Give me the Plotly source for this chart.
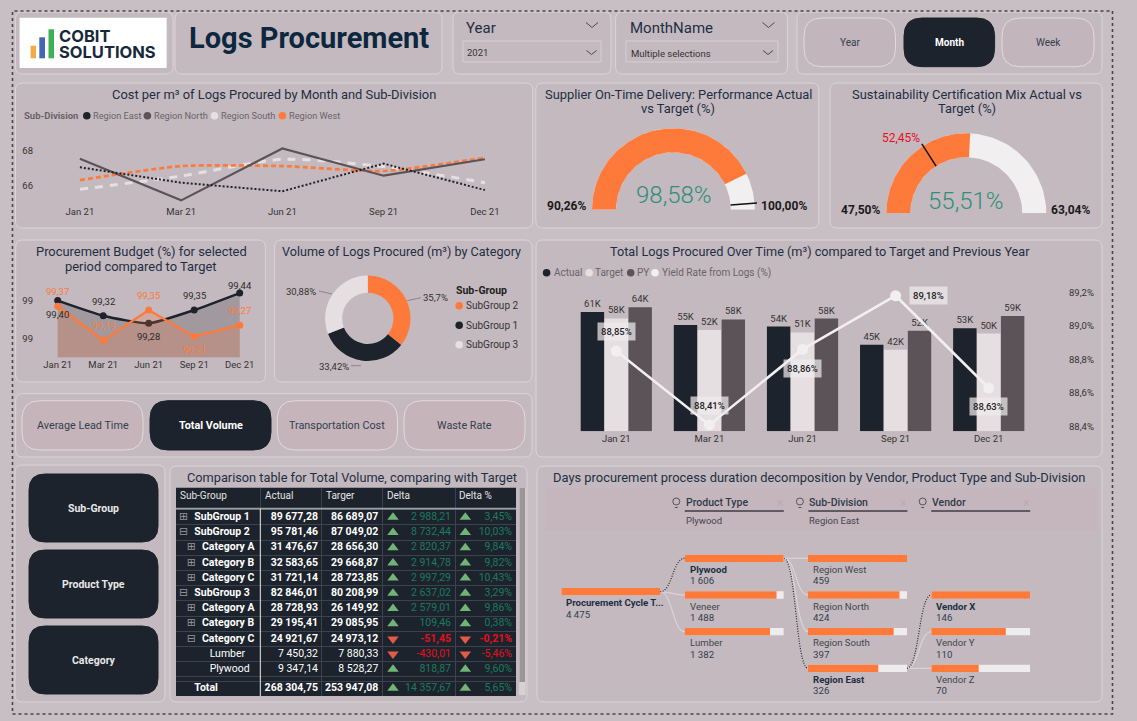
import math
import plotly.graph_objects as go

# ---------- data ----------
months = ["Jan 21", "Mar 21", "Jun 21", "Sep 21", "Dec 21"]
cost_east = [67.03, 66.15, 65.66, 67.24, 65.73]
cost_north = [67.52, 65.14, 68.11, 66.55, 67.49]
cost_south = [65.77, 66.53, 67.49, 67.07, 66.15]
cost_west = [66.30, 67.10, 67.10, 66.82, 67.58]
regions = ["Region East", "Region North", "Region South", "Region West"]

otd_min, otd_max, otd_value, otd_target = 90.26, 100.00, 98.58, 99.75
cert_min, cert_max, cert_value, cert_target = 47.50, 63.04, 55.51, 52.45

budget_black = [99.40, 99.32, 99.28, 99.35, 99.44]
budget_orange = [99.37, 99.19, 99.35, 99.21, 99.27]

donut_labels = ["SubGroup 2", "SubGroup 1", "SubGroup 3"]
donut_values = [35.70, 33.42, 30.88]

actual = [61.4, 54.7, 53.9, 44.6, 53.0]
target = [58.1, 52.1, 50.9, 42.0, 50.3]
prev_year = [63.8, 57.6, 58.0, 51.8, 59.3]
yield_rate = [88.85, 88.41, 88.86, 89.18, 88.63]

kpi_names = ["Average Lead Time", "Total Volume", "Transportation Cost", "Waste Rate"]
period_names = ["Year", "Month", "Week"]
dim_names = ["Sub-Group", "Product Type", "Category"]

table_names = ["SubGroup 1", "SubGroup 2", "Category A", "Category B", "Category C", "SubGroup 3",
               "Category A", "Category B", "Category C", "Lumber", "Plywood"]
table_levels = [0, 0, 1, 1, 1, 0, 1, 1, 1, 2, 2]
table_open = [False, True, False, False, False, True, False, False, True, False, False]
table_actual = [89677.28, 95781.46, 31476.67, 32583.65, 31721.14, 82846.01, 28728.93, 29195.41, 24921.67, 7450.32, 9347.14]
table_target = [86689.07, 87049.02, 28656.30, 29668.87, 28723.85, 80208.99, 26149.92, 29085.95, 24973.12, 7880.33, 8528.27]
table_delta = [2988.21, 8732.44, 2820.37, 2914.78, 2997.29, 2637.02, 2579.01, 109.46, -51.45, -430.01, 818.87]
table_delta_pct = [3.45, 10.03, 9.84, 9.82, 10.43, 3.29, 9.86, 0.38, -0.21, -5.46, 9.60]
total_name = "Total"
total_actual, total_target, total_delta, total_delta_pct = 268304.75, 253947.08, 14357.67, 5.65
table_headers = ["Sub-Group", "Actual", "Targer", "Delta", "Delta %"]

root_name, root_value = "Procurement Cycle T...", 4475
product_names = ["Plywood", "Veneer", "Lumber"]
product_values = [1606, 1488, 1382]
division_names = ["Region West", "Region North", "Region South", "Region East"]
division_values = [459, 424, 397, 326]
vendor_names = ["Vendor X", "Vendor Y", "Vendor Z"]
vendor_values = [146, 110, 70]

# ---------- style ----------
W, H = 1137, 721
FONT = "Roboto, 'DejaVu Sans'"
BG = "#c8bfc4"
PANEL = "#c4b9be"
EDGE = "#dbd3d7"
DARK = "#1c232c"
ORANGE = "#fd7a3a"
LIGHT = "#e6dfe2"
GREY = "#5b5357"
NAVY = "#1d2f44"
WHITE = "#f2eff0"


def px(x):
    return x / W


def py(y):
    return 1 - y / H


def dom(a, b):
    return [px(a), px(b)]


def domy(top, bottom):
    return [py(bottom), py(top)]


shapes = []
annotations = []


def rrect(x0, y0, x1, y1, r, fill="rgba(0,0,0,0)", line=EDGE, lw=1):
    p = (f"M{px(x0+r)},{py(y0)} L{px(x1-r)},{py(y0)} Q{px(x1)},{py(y0)} {px(x1)},{py(y0+r)} "
         f"L{px(x1)},{py(y1-r)} Q{px(x1)},{py(y1)} {px(x1-r)},{py(y1)} L{px(x0+r)},{py(y1)} "
         f"Q{px(x0)},{py(y1)} {px(x0)},{py(y1-r)} L{px(x0)},{py(y0+r)} Q{px(x0)},{py(y0)} {px(x0+r)},{py(y0)} Z")
    shapes.append(dict(type="path", path=p, xref="paper", yref="paper", fillcolor=fill,
                       line=dict(color=line, width=lw), layer="below"))


def rect(x0, y0, x1, y1, fill):
    shapes.append(dict(type="rect", xref="paper", yref="paper", x0=px(x0), x1=px(x1), y0=py(y0), y1=py(y1),
                       fillcolor=fill, line=dict(width=0), layer="below"))


def seg(x0, y0, x1, y1, color, w=1, dash="solid", layer="below"):
    shapes.append(dict(type="line", xref="paper", yref="paper", x0=px(x0), x1=px(x1), y0=py(y0), y1=py(y1),
                       line=dict(color=color, width=w, dash=dash), layer=layer))


def dot(x, y, r, color, line=None):
    shapes.append(dict(type="circle", xref="paper", yref="paper", x0=px(x - r), x1=px(x + r), y0=py(y + r), y1=py(y - r),
                       fillcolor=color, line=dict(width=1 if line else 0, color=line or color), layer="above"))


def chevron(x, y, w=5, h=3.5, color="#4b4a50"):
    p = f"M{px(x-w)},{py(y-h/2)} L{px(x)},{py(y+h/2)} L{px(x+w)},{py(y-h/2)}"
    shapes.append(dict(type="path", path=p, xref="paper", yref="paper", line=dict(color=color, width=1), layer="above"))


def T(x, y, text, size=10, color="#333333", anchor="left", bold=False, weight=None, family=FONT):
    annotations.append(dict(x=px(x), y=py(y), xref="paper", yref="paper", text=text, showarrow=False,
                            xanchor=anchor, yanchor="middle",
                            font=dict(size=size, color=color, family=family,
                                      weight=weight if weight else (700 if bold else 400)),
                            borderpad=0, align=anchor))


def curve(x0, y0, x1, y1, color, dash="solid", w=1.1):
    mx = (x0 + x1) / 2
    p = f"M{px(x0)},{py(y0)} C{px(mx)},{py(y0)} {px(mx)},{py(y1)} {px(x1)},{py(y1)}"
    shapes.append(dict(type="path", path=p, xref="paper", yref="paper",
                       line=dict(color=color, width=w, dash=dash), layer="below"))


# ---------- panels ----------
p_list = [(15.5, 12, 173, 74), (175, 12, 442, 74), (453, 12, 611, 74), (615.6, 12, 787.5, 74), (797, 12, 1102, 74),
          (15.5, 83, 532.7, 228), (535.8, 83, 818.8, 228), (830, 83, 1102, 228),
          (15.7, 240, 265.4, 382), (274.6, 240, 532, 382), (536, 240, 1102, 457),
          (15.7, 393.7, 532, 457), (15, 465, 165, 702), (170, 466, 527, 702), (537, 466, 1102, 702)]
for a in p_list:
    rrect(*a, 7, fill=PANEL)
shapes.append(dict(type="rect", xref="paper", yref="paper", x0=px(12.5), x1=px(1112.5), y0=py(714), y1=py(11),
                   line=dict(color="#4a4448", width=1.6, dash="dot"), layer="below"))

# logo
rect(19.6, 17.7, 166.7, 68, "#ffffff")
rect(30.6, 45.7, 36, 58.3, "#f5ab45")
rect(39.3, 37.3, 45, 58.3, "#4467b5")
rect(48.5, 29.3, 54, 58.3, "#3cb054")
T(58.3, 36, "COBIT", 16.5, "#17283b", bold=True, family="Inter, Roboto")
T(58.3, 52, "SOLUTIONS", 16.5, "#17283b", bold=True, family="Inter, Roboto")
T(309, 38, "Logs Procurement", 29, "#0d2740", "center", bold=True)

# slicers
T(465, 28, "Year", 15, NAVY)
shapes.append(dict(type="rect", xref="paper", yref="paper", x0=px(463), x1=px(601), y0=py(62), y1=py(41),
                   line=dict(color="#d6ced2", width=1), layer="below"))
T(466, 53, "2021", 9.5, "#333333")
chevron(592, 25, 6, 5)
chevron(591.5, 52.5, 5, 4)
T(628.7, 28, "MonthName", 15, NAVY)
shapes.append(dict(type="rect", xref="paper", yref="paper", x0=px(626), x1=px(778), y0=py(62), y1=py(41),
                   line=dict(color="#d6ced2", width=1), layer="below"))
T(630, 53.5, "Multiple selections", 9.5, "#333333")
chevron(768.5, 25, 6, 5)
chevron(768, 52.5, 5, 4)

# period buttons
period_boxes = [(804, 18, 895.5, 66.7), (904, 18, 994.6, 66.7), (1002, 18, 1094, 66.7)]
for name, b in zip(period_names, period_boxes):
    on = name == "Month"
    rrect(*b, 18, fill=DARK if on else "#c2b5bb", line=DARK if on else "#e2dbde")
    T((b[0] + b[2]) / 2, 42.3, name, 10, "#ffffff" if on else "#33404f", "center", bold=on)

# KPI buttons
kpi_boxes = [(22, 400.7, 143, 450), (150, 400.7, 271, 450), (277.4, 400.7, 397.5, 450), (404, 400.7, 525, 450)]
for name, b in zip(kpi_names, kpi_boxes):
    on = name == "Total Volume"
    rrect(*b, 18, fill=DARK if on else "#c5b4ba", line=DARK if on else "#e2dbde")
    T((b[0] + b[2]) / 2, 425.3, name, 10.8, "#ffffff" if on else "#33404f", "center", bold=on)

# dimension buttons
dim_boxes = [(29, 474, 158, 542), (29, 550, 158, 618), (29, 626, 158, 694)]
for name, b in zip(dim_names, dim_boxes):
    rrect(*b, 16, fill=DARK, line=DARK)
    T((b[0] + b[2]) / 2, (b[1] + b[3]) / 2, name, 10.5, "#e8e8e8", "center", bold=True)

# titles
TS = 12.9
T(274.4, 95, "Cost per m³ of Logs Procured by Month and Sub-Division", TS, NAVY, "center")
T(678, 95, "Supplier On-Time Delivery: Performance Actual", TS, NAVY, "center")
T(678, 109, "vs Target (%)", TS, NAVY, "center")
T(966.7, 95, "Sustainability Certification Mix Actual vs", TS, NAVY, "center")
T(966.7, 109, "Target (%)", TS, NAVY, "center")
T(141, 251, "Procurement Budget (%) for selected", TS, NAVY, "center")
T(141, 266, "period compared to Target", TS, NAVY, "center")
T(401, 251, "Volume of Logs Procured (m³) by Category", 12.6, NAVY, "center")
T(819.6, 251, "Total Logs Procured Over Time (m³) compared to Target and Previous Year", 12.7, NAVY, "center")
T(351.7, 477, "Comparison table for Total Volume, comparing with Target", 12.75, NAVY, "center")
T(819, 477, "Days procurement process duration decomposition by Vendor, Product Type and Sub-Division", TS, NAVY, "center")

fig = go.Figure()
tick_font = dict(size=9.5, color="#333333", family=FONT)
layout_axes = {}

# ---------- chart 1: cost lines ----------
T(22.7, 115.7, "Sub-Division", 9.5, "#6a6368", bold=True)
for nm, cx, tx, c in zip(regions, [86.8, 147.4, 214.5, 282.4], [92.3, 152.5, 220.4, 287.5], [DARK, GREY, LIGHT, ORANGE]):
    dot(cx, 115.7, 3.8, c)
    T(tx, 115.7, nm, 9.2, "#6a6368")
styles = [(cost_south, LIGHT, "8px,7px", "spline", 3), (cost_west, ORANGE, "5px,3px", "spline", 2.7),
          (cost_north, GREY, "solid", "linear", 2.2), (cost_east, DARK, "2px,2px", "linear", 2)]
for vals, c, d, sh, w in styles:
    fig.add_trace(go.Scatter(x=months, y=vals, mode="lines", xaxis="x", yaxis="y",
                             line=dict(color=c, dash=d, shape=sh, width=w, smoothing=0.6)))
step1 = 101.25
layout_axes["xaxis"] = dict(domain=dom(34, 530), anchor="y", type="category", range=[(34 - 79.9) / step1, (530 - 79.9) / step1],
                            showgrid=False, zeroline=False, showline=False, tickfont=tick_font, ticks="")
cost_top_y, cost_bot_y = 130, 204
layout_axes["yaxis"] = dict(domain=domy(cost_top_y, cost_bot_y), anchor="x",
                            range=[68 - (cost_bot_y - 150.33) / 17.5, 68 + (150.33 - cost_top_y) / 17.5],
                            tickvals=[66, 68], showgrid=False, zeroline=False, tickfont=tick_font, ticks="")


# ---------- gauges ----------
def arc(v0, v1, vmin, vmax, inner):
    n = 80
    ang = [math.pi * (1 - (v0 + (v1 - v0) * i / n - vmin) / (vmax - vmin)) for i in range(n + 1)]
    xs = [math.cos(a) for a in ang] + [inner * math.cos(a) for a in reversed(ang)]
    ys = [math.sin(a) for a in ang] + [inner * math.sin(a) for a in reversed(ang)]
    return xs + xs[:1], ys + ys[:1]


def gauge(ax, cx, base, R, inner, vmin, vmax, val, tgt):
    xn, yn = f"xaxis{ax}", f"yaxis{ax}"
    xs, ys = arc(vmin, vmax, vmin, vmax, inner)
    fig.add_trace(go.Scatter(x=xs, y=ys, mode="lines", fill="toself", fillcolor=WHITE, line=dict(width=0),
                             xaxis=f"x{ax}", yaxis=f"y{ax}"))
    xs, ys = arc(vmin, val, vmin, vmax, inner)
    fig.add_trace(go.Scatter(x=xs, y=ys, mode="lines", fill="toself", fillcolor=ORANGE, line=dict(width=0),
                             xaxis=f"x{ax}", yaxis=f"y{ax}"))
    a = math.pi * (1 - (tgt - vmin) / (vmax - vmin))
    fig.add_trace(go.Scatter(x=[inner * math.cos(a), 1.03 * math.cos(a)], y=[inner * math.sin(a), 1.03 * math.sin(a)],
                             mode="lines", line=dict(color="#111111", width=1.5), xaxis=f"x{ax}", yaxis=f"y{ax}"))
    hidden = dict(visible=False, showgrid=False, zeroline=False)
    layout_axes[xn] = dict(domain=dom(cx - 1.1 * R, cx + 1.1 * R), range=[-1.1, 1.1], anchor=f"y{ax}", **hidden)
    layout_axes[yn] = dict(domain=domy(base - 1.1 * R, base), range=[0, 1.1], anchor=f"x{ax}", **hidden)


def pct(v, d=2):
    return f"{v:.{d}f}".replace(".", ",") + "%"


gauge(5, 673.4, 209.7, 81.4, 0.705, otd_min, otd_max, otd_value, otd_target)
gauge(6, 966.3, 213.3, 80, 0.70, cert_min, cert_max, cert_value, cert_target)
BIG = dict(size=24, color="#2f8f7a", anchor="center", weight=300)
T(673.6, 195, pct(otd_value), **BIG)
T(966.3, 200.7, pct(cert_value), **BIG)
T(566.8, 205.7, pct(otd_min), 12, "#1a1a1a", "center", bold=True)
T(783.6, 205.7, pct(otd_max), 12, "#1a1a1a", "center", bold=True)
T(860, 209.7, pct(cert_min), 12, "#1a1a1a", "center", bold=True)
T(1070.8, 209.7, pct(cert_max), 12, "#1a1a1a", "center", bold=True)
T(901, 138.3, pct(cert_target), 12, "#e8101e", "center")

# ---------- budget ----------
fig.add_trace(go.Scatter(x=months, y=budget_black, mode="lines+markers", fill="tozeroy", fillcolor="rgba(40,42,50,0.22)",
                         line=dict(color=DARK, width=2.4, shape="spline", smoothing=0.5), marker=dict(size=7, color=DARK),
                         xaxis="x2", yaxis="y2"))
fig.add_trace(go.Scatter(x=months, y=budget_orange, mode="lines+markers", fill="tozeroy", fillcolor="rgba(250,120,60,0.22)",
                         line=dict(color=ORANGE, width=2.4), marker=dict(size=7, color=ORANGE),
                         xaxis="x2", yaxis="y2"))
step2 = 45.5
layout_axes["xaxis2"] = dict(domain=dom(34, 258), anchor="y2", type="category", range=[(34 - 57.7) / step2, (258 - 57.7) / step2],
                             showgrid=False, zeroline=False, tickfont=tick_font, ticks="")
layout_axes["yaxis2"] = dict(domain=domy(278.3, 357.3), anchor="x2", range=[99.10, 99.518], tickvals=[99.2, 99.4], tickformat=".0f",
                             showgrid=False, zeroline=False, tickfont=tick_font, ticks="")
black_shift = [-13.7, 14.7, -13.7, 14.7, 7.3]
orange_shift = [14.3, 14.3, 14.3, -13.3, 14.3]
for m, v, s in zip(months, budget_black, black_shift):
    annotations.append(dict(x=m, y=v, xref="x2", yref="y2", text=f"{v:.2f}".replace(".", ","), showarrow=False, yshift=s,
                            font=dict(size=9.5, color="#2b2b2b", family=FONT)))
for m, v, s in zip(months, budget_orange, orange_shift):
    annotations.append(dict(x=m, y=v, xref="x2", yref="y2", text=f"{v:.2f}".replace(".", ","), showarrow=False, yshift=s,
                            font=dict(size=9.5, color=ORANGE, family=FONT)))

# ---------- donut ----------
fig.add_trace(go.Pie(labels=donut_labels, values=donut_values, hole=0.6, sort=False, direction="clockwise", rotation=0,
                     marker=dict(colors=[ORANGE, DARK, LIGHT], line=dict(width=0)), textinfo="none",
                     domain=dict(x=dom(367.8 - 42.7, 367.8 + 42.7), y=domy(318.3 - 42.7, 318.3 + 42.7))))
T(435, 297.7, pct(donut_values[0], 1), 9.5, "#333333", "center")
T(333.7, 366.7, pct(donut_values[1]), 9.5, "#333333", "center")
T(301.3, 291.7, pct(donut_values[2]), 9.5, "#333333", "center")
seg(407, 300.7, 421, 297.7, "#8d8589")
seg(351, 365.7, 361, 365.7, "#8d8589")
seg(319, 291, 332, 294, "#8d8589")
T(454.8, 290, "Sub-Group", 10.5, "#222222", bold=True)
for nm, y, c in zip(donut_labels, [305.7, 325.3, 344.7], [ORANGE, DARK, LIGHT]):
    dot(459.2, y, 3.8, c)
    T(465, y, nm, 10, "#333333")

# ---------- bars + yield ----------
for name, vals, c in [("Actual", actual, DARK), ("Target", target, LIGHT), ("PY", prev_year, GREY)]:
    fig.add_trace(go.Bar(x=months, y=vals, name=name, marker=dict(color=c, line=dict(width=0)),
                         text=[f"{round(v)}K" for v in vals], textposition="outside", cliponaxis=False,
                         textfont=dict(size=9.5, color="#333333", family=FONT), xaxis="x3", yaxis="y3",
                         offsetgroup=name))
fig.add_trace(go.Scatter(x=months, y=yield_rate, mode="lines+markers", line=dict(color=WHITE, width=2.6),
                         marker=dict(size=11, color=WHITE), xaxis="x3", yaxis="y4"))
layout_axes["xaxis3"] = dict(domain=dom(569.75, 1035.3), anchor="y3", type="category", showgrid=False, zeroline=False,
                             tickfont=tick_font, ticks="", showline=False, range=[-0.5, 4.5])
layout_axes["yaxis3"] = dict(domain=domy(285, 431.3), anchor="x3", range=[0, 75.3], visible=False, showgrid=False, zeroline=False)
layout_axes["yaxis4"] = dict(overlaying="y3", side="right", anchor="free", position=px(1068), range=[88.372, 89.244],
                             tickvals=[88.4, 88.6, 88.8, 89.0, 89.2], ticktext=["88,4%", "88,6%", "88,8%", "89,0%", "89,2%"],
                             showgrid=False, zeroline=False, showline=False, tickfont=tick_font, ticks="")
yield_shift = [(0, 19.3), (0, 19.7), (0, -19.3), (32.5, 0), (0, -18.7)]
for m, v, (sx, sy) in zip(months, yield_rate, yield_shift):
    annotations.append(dict(x=m, y=v, xref="x3", yref="y4", text=pct(v), showarrow=False, xshift=sx, yshift=sy,
                            bgcolor="rgba(238,234,236,0.72)", borderpad=3,
                            font=dict(size=9.5, color="#222222", family=FONT, weight=500)))
for nm, cx, tx, c in zip(["Actual", "Target", "PY", "Yield Rate from Logs (%)"], [546.6, 589.2, 630.7, 655],
                         [552.5, 594.3, 635.7, 660.9], [DARK, LIGHT, GREY, WHITE]):
    dot(cx, 272.7, 3.8, c)
    T(tx, 272.7, nm, 10, "#6a6368")


# ---------- table (text + markers on its own axes) ----------
def num(v):
    s = f"{abs(v):,.2f}".replace(",", " ").replace(".", ",")
    return ("-" if v < 0 else "") + s


T_L, T_R, T_T, T_B = 176, 516, 487.7, 696
ROW0, ROWH = 517.3, 15.2
rows = list(range(len(table_names)))
total_pos = (688.3 - ROW0) / ROWH
header_pos = (497 - ROW0) / ROWH
rect(T_L, T_T, T_R, T_B, DARK)
GREEN_TXT = "#1c7a60"
RED_TXT = "#e6101d"
GREEN_ICON = "#72b377"
RED_ICON = "#e35a46"
ROW_Y = rows + [total_pos]
all_delta = table_delta + [total_delta]
all_pct = table_delta_pct + [total_delta_pct]
val_colors = [GREEN_TXT if d >= 0 else RED_TXT for d in all_delta]
is_bold = [l < 2 for l in table_levels] + [True]


def b(s, flag):
    return f"<b>{s}</b>" if flag else s


def col(xs, ys, texts, colors, pos, size=10.5):
    fig.add_trace(go.Scatter(x=xs, y=ys, mode="text", text=texts, textposition=pos, cliponaxis=False,
                             textfont=dict(size=size, color=colors, family=FONT), xaxis="x11", yaxis="y11"))


name_x = {0: 18.3, 1: 26, 2: 33.7}
icon_x = {0: 7.7, 1: 15.3}
col([name_x[l] for l in table_levels] + [18.3], ROW_Y,
    [b(n, f) for n, f in zip(table_names + [total_name], is_bold)], "#ffffff", "middle right")
icon_rows = [i for i, l in enumerate(table_levels) if l < 2]
col([icon_x[table_levels[i]] for i in icon_rows], icon_rows, ["⊟" if table_open[i] else "⊞" for i in icon_rows],
    "#8f9499", "middle center", 11)
col([142] * len(ROW_Y), ROW_Y, [b(num(v), f) for v, f in zip(table_actual + [total_actual], is_bold)], "#ffffff", "middle left")
col([202.3] * len(ROW_Y), ROW_Y, [b(num(v), f) for v, f in zip(table_target + [total_target], is_bold)], "#ffffff", "middle left")
neg_bold = [d < 0 and l < 2 for d, l in zip(all_delta, table_levels + [2])]
col([275] * len(ROW_Y), ROW_Y, [b(num(v), f) for v, f in zip(all_delta, neg_bold)], val_colors, "middle left")
col([336] * len(ROW_Y), ROW_Y, [b(pct(v), f) for v, f in zip(all_pct, neg_bold)], val_colors, "middle left")
for xpos in (217, 289.3):
    fig.add_trace(go.Scatter(x=[xpos] * len(ROW_Y), y=ROW_Y, mode="markers", xaxis="x11", yaxis="y11", cliponaxis=False,
                             marker=dict(size=10, line=dict(width=0),
                                         symbol=["triangle-up" if d >= 0 else "triangle-down" for d in all_delta],
                                         color=[GREEN_ICON if d >= 0 else RED_ICON for d in all_delta])))
col([4, 89, 150, 211, 283], [header_pos] * 5, table_headers, "#e4e4e4", "middle right", 10)
HLINE = "#3b444e"
row_edges = [r - 0.5 for r in rows] + [rows[-1] + 0.5, (681 - ROW0) / ROWH]
layout_axes["xaxis11"] = dict(domain=dom(T_L, T_R), range=[0, T_R - T_L], anchor="y11", tickvals=[84.3, 145.3, 206.3, 279.3],
                              showticklabels=False, ticks="", showgrid=True, gridcolor=HLINE, gridwidth=1, zeroline=False)
layout_axes["yaxis11"] = dict(domain=domy(T_T, T_B), range=[(T_B - ROW0) / ROWH, (T_T - ROW0) / ROWH], anchor="x11",
                              tickvals=row_edges, showticklabels=False, ticks="", showgrid=True, gridcolor=HLINE, gridwidth=1, zeroline=False)
seg(T_L, 508.6, T_R, 508.6, "#9aa0a6", 1.6, layer="above")
seg(260.3, 509, 260.3, T_B, "#e8e6e6", 1, layer="above")
rect(519, 488, 525.7, 695, "#d8d1d4")
rect(519.5, 488, 525, 682, "#9b9498")

# ---------- decomposition tree ----------
rect(545, 488, 1097, 530, "rgba(200,172,182,0.28)")
tree_cols = [([root_name], [root_value], 561.2, [591.7]),
             (product_names, product_values, 684.8, [558.3, 595, 631.7]),
             (division_names, division_values, 808, [558.3, 595, 631.7, 668.3]),
             (vendor_names, vendor_values, 931.2, [595, 631.7, 668.3])]
selected = {root_name, "Plywood", "Region East", "Vendor X"}
ROW = 36.67
BW = 99
for i, (names, vals, left, ys) in enumerate(tree_cols):
    ax = 7 + i
    mx = max(vals)
    fig.add_trace(go.Bar(y=names, x=[mx] * len(vals), orientation="h", width=0.2, offsetgroup="t",
                         marker=dict(color="#efecee", line=dict(width=0)), xaxis=f"x{ax}", yaxis=f"y{ax}"))
    fig.add_trace(go.Bar(y=names, x=vals, orientation="h", width=0.2, offsetgroup="t",
                         marker=dict(color=ORANGE, line=dict(width=0)), xaxis=f"x{ax}", yaxis=f"y{ax}"))
    layout_axes[f"xaxis{ax}"] = dict(domain=dom(left, left + BW), range=[0, mx], anchor=f"y{ax}", visible=False,
                                     showgrid=False, zeroline=False)
    layout_axes[f"yaxis{ax}"] = dict(domain=domy(ys[0] - ROW / 2, ys[-1] + ROW / 2), type="category", categoryarray=names,
                                     categoryorder="array", range=[len(names) - 0.5, -0.5], anchor=f"x{ax}",
                                     visible=False, showgrid=False, zeroline=False)
    for n, v, y in zip(names, vals, ys):
        T(left + 4, y + 11, n, 9.6, NAVY if n in selected else "#3f464f", bold=n in selected)
        T(left + 4, y + 22.3, f"{v:,}".replace(",", " "), 9.7, "#33404f")

LNK = "#dcd5d8"
BLK = "#2a2a2a"
cx1, cx2, cx3 = 660.2, 783.8, 906.9
curve(cx1, 591.7, 684.8, 595, LNK)
curve(cx1, 591.7, 684.8, 631.7, LNK)
curve(cx1, 591.7, 684.8, 558.3, BLK, "1px,1.5px", 1.2)
for y in [558.3, 595, 631.7]:
    curve(cx2, 558.3, 808, y, LNK)
curve(cx2, 558.3, 808, 668.3, BLK, "1px,1.5px", 1.2)
for y in [631.7, 668.3]:
    curve(cx3, 668.3, 931.2, y, LNK)
curve(cx3, 668.3, 931.2, 595, BLK, "1px,1.5px", 1.2)
for hdr, sel, left in [("Product Type", "Plywood", 684.8), ("Sub-Division", "Region East", 808.4), ("Vendor", "", 931.2)]:
    T(left, 502.3, hdr, 10.5, "#2e3b4b", weight=500)
    seg(left, 511, left + 99, 511, "#3e3e44", 1.6)
    if sel:
        T(left, 520, sel, 9.5, "#3f464f")
    T(left + 95, 503, "×", 12, "#b7adb2", "center")
    shapes.append(dict(type="circle", xref="paper", yref="paper", x0=px(left - 12), x1=px(left - 5), y0=py(505), y1=py(498),
                       line=dict(color="#4b4a50", width=0.9), layer="above"))
    seg(left - 10, 507.5, left - 7, 507.5, "#4b4a50", 0.9, layer="above")

fig.update_layout(width=W, height=H, margin=dict(l=0, r=0, t=0, b=0), paper_bgcolor=BG, plot_bgcolor="rgba(0,0,0,0)",
                  showlegend=False, barmode="group", bargap=0.23, bargroupgap=0.02, shapes=shapes, annotations=annotations,
                  font=dict(family=FONT), **layout_axes)
fig.write_html("out.html", post_script="document.body.style.margin='0';document.body.style.overflow='hidden';",
               config=dict(displayModeBar=False))
